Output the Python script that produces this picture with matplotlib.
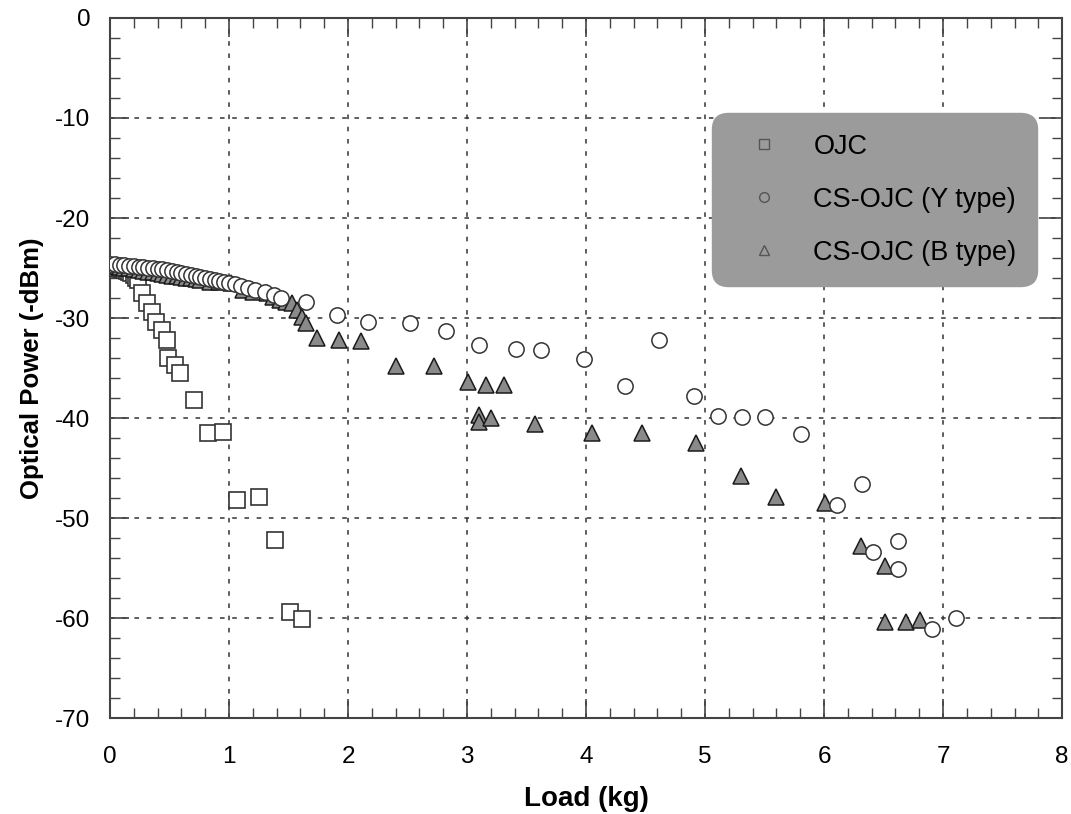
import matplotlib
matplotlib.use("Agg")
import matplotlib.pyplot as plt
from matplotlib.ticker import MultipleLocator
from matplotlib.lines import Line2D

plt.rcParams['font.family'] = ['Liberation Sans', 'DejaVu Sans']
plt.rcParams['axes.unicode_minus'] = False

# ---- data (load in kg, optical power in dBm) ----
ojc_x = [0.00, 0.02, 0.04, 0.06, 0.08, 0.10, 0.12, 0.14, 0.16, 0.18, 0.20, 0.22,
         0.235, 0.27, 0.31, 0.35, 0.39, 0.44, 0.48, 0.49, 0.55, 0.59, 0.71,
         0.82, 0.95, 1.07, 1.25, 1.39, 1.51, 1.61]
ojc_y = [-24.9, -25.0, -25.0, -25.0, -25.1, -25.1, -25.2, -25.3, -25.4, -25.5, -25.7, -26.0,
         -26.2, -27.5, -28.5, -29.4, -30.4, -31.2, -32.2, -34.0, -34.7, -35.5, -38.2,
         -41.5, -41.4, -48.2, -47.9, -52.2, -59.4, -60.1]

y_type_x = [0.00, 0.04, 0.08, 0.12, 0.16, 0.20, 0.24, 0.28, 0.32, 0.36, 0.40, 0.44,
            0.48, 0.52, 0.56, 0.60, 0.64, 0.68, 0.72, 0.76, 0.80, 0.84, 0.88, 0.92,
            0.96, 1.00, 1.05, 1.10, 1.16, 1.22, 1.30, 1.38, 1.44, 1.65,
            1.91, 2.17, 2.52, 2.82, 3.10, 3.41, 3.62, 3.98, 4.33, 4.61, 4.91,
            5.11, 5.31, 5.50, 5.81, 6.11, 6.32, 6.41, 6.62, 6.62, 6.91, 7.11]
y_type_y = [-24.6, -24.6, -24.7, -24.7, -24.8, -24.8, -24.9, -24.9, -25.0, -25.0, -25.1, -25.1,
            -25.2, -25.3, -25.4, -25.5, -25.6, -25.7, -25.8, -25.9, -26.0, -26.1, -26.2, -26.3,
            -26.4, -26.5, -26.6, -26.8, -27.0, -27.2, -27.4, -27.7, -28.0, -28.4,
            -29.7, -30.4, -30.5, -31.3, -32.7, -33.1, -33.2, -34.1, -36.8, -32.2, -37.8,
            -39.8, -39.9, -39.9, -41.6, -48.7, -46.6, -53.4, -52.3, -55.1, -61.1, -60.0]

b_type_x = [0.00, 0.04, 0.08, 0.12, 0.16, 0.20, 0.24, 0.28, 0.32, 0.36, 0.40, 0.44,
            0.48, 0.52, 0.56, 0.60, 0.64, 0.68, 0.72,
            0.76, 0.84, 0.92, 1.02, 1.12, 1.20, 1.32, 1.37, 1.43, 1.48, 1.53, 1.57, 1.61, 1.65,
            1.74, 1.92, 2.11, 2.40, 2.72, 3.01, 3.16, 3.31, 3.10, 3.10, 3.20, 3.57,
            4.05, 4.47, 4.92, 5.30, 5.60, 6.01, 6.31, 6.51, 6.51, 6.69, 6.81]
b_type_y = [-24.8, -24.8, -24.9, -25.0, -25.0, -25.1, -25.2, -25.3, -25.4, -25.4, -25.5, -25.6,
            -25.7, -25.8, -25.8, -25.9, -26.0, -26.0, -26.1,
            -26.2, -26.4, -26.4, -26.5, -27.2, -27.4, -27.5, -27.9, -28.2, -28.4, -28.5, -29.2, -29.9, -30.5,
            -32.0, -32.2, -32.3, -34.8, -34.8, -36.4, -36.7, -36.7, -39.7, -40.4, -40.0, -40.6,
            -41.5, -41.5, -42.5, -45.8, -47.9, -48.5, -52.8, -54.8, -60.4, -60.4, -60.2]

labels = ["OJC", "CS-OJC (Y type)", "CS-OJC (B type)"]
x_ticks = [0, 1, 2, 3, 4, 5, 6, 7, 8]
y_ticks = [0, -10, -20, -30, -40, -50, -60, -70]

# ---- figure ----
fig = plt.figure(figsize=(10.71, 8.14), dpi=100)
ax = fig.add_axes([0.1027, 0.1179, 0.889, 0.860])

ax.set_xlim(0, 8)
ax.set_ylim(-70, 0)
ax.set_xticks(x_ticks)
ax.set_yticks(y_ticks)
ax.set_xticklabels([str(v) for v in x_ticks])
ax.set_yticklabels([str(v) for v in y_ticks])
ax.xaxis.set_minor_locator(MultipleLocator(0.2))
ax.yaxis.set_minor_locator(MultipleLocator(2))

ax.grid(True, which='major', linestyle=(0, (3, 5)), color='#333333', linewidth=1.1)
ax.set_axisbelow(True)

ax.tick_params(which='both', direction='in', top=True, right=True, colors='#444444',
               labelcolor='black', labelsize=17.5)
ax.tick_params(which='major', length=14, width=1.2)
ax.tick_params(which='minor', length=7, width=1.0)
ax.tick_params(axis='x', pad=20)
ax.tick_params(axis='y', pad=14)
for s in ax.spines.values():
    s.set_color('#444444')
    s.set_linewidth(1.5)

ax.plot(ojc_x, ojc_y, linestyle='none', marker='s', markersize=11,
        markerfacecolor='white', markeredgecolor='#333333', markeredgewidth=1.2, zorder=3)
ax.plot(b_type_x, b_type_y, linestyle='none', marker='^', markersize=11,
        markerfacecolor='#8a8a8a', markeredgecolor='#1a1a1a', markeredgewidth=1.1, zorder=4)
ax.plot(y_type_x, y_type_y, linestyle='none', marker='o', markersize=11,
        markerfacecolor='white', markeredgecolor='#333333', markeredgewidth=1.1, zorder=5)

ax.set_xlabel("Load (kg)", fontsize=20, fontweight='bold', labelpad=13)
ax.set_ylabel("Optical Power (-dBm)", fontsize=18.5, fontweight='bold', labelpad=8)

handles = [
    Line2D([], [], linestyle='none', marker='s', markersize=7,
           markerfacecolor='#9b9b9b', markeredgecolor='#555555', markeredgewidth=1.0),
    Line2D([], [], linestyle='none', marker='o', markersize=7,
           markerfacecolor='#9b9b9b', markeredgecolor='#555555', markeredgewidth=1.0),
    Line2D([], [], linestyle='none', marker='^', markersize=7,
           markerfacecolor='#9b9b9b', markeredgecolor='#555555', markeredgewidth=1.0),
]
leg = ax.legend(handles, labels, loc='upper left', bbox_to_anchor=(0.632, 0.864),
                fontsize=19.5, frameon=True, fancybox=True, framealpha=1,
                facecolor='#9b9b9b', edgecolor='#9b9b9b', borderpad=0.75,
                labelspacing=1.0, handlelength=2.37, handletextpad=0.63,
                borderaxespad=0)
leg.get_frame().set_boxstyle('round', pad=0.0, rounding_size=0.6)
leg.set_zorder(10)

fig.savefig("out.png", dpi=100, facecolor='white')
